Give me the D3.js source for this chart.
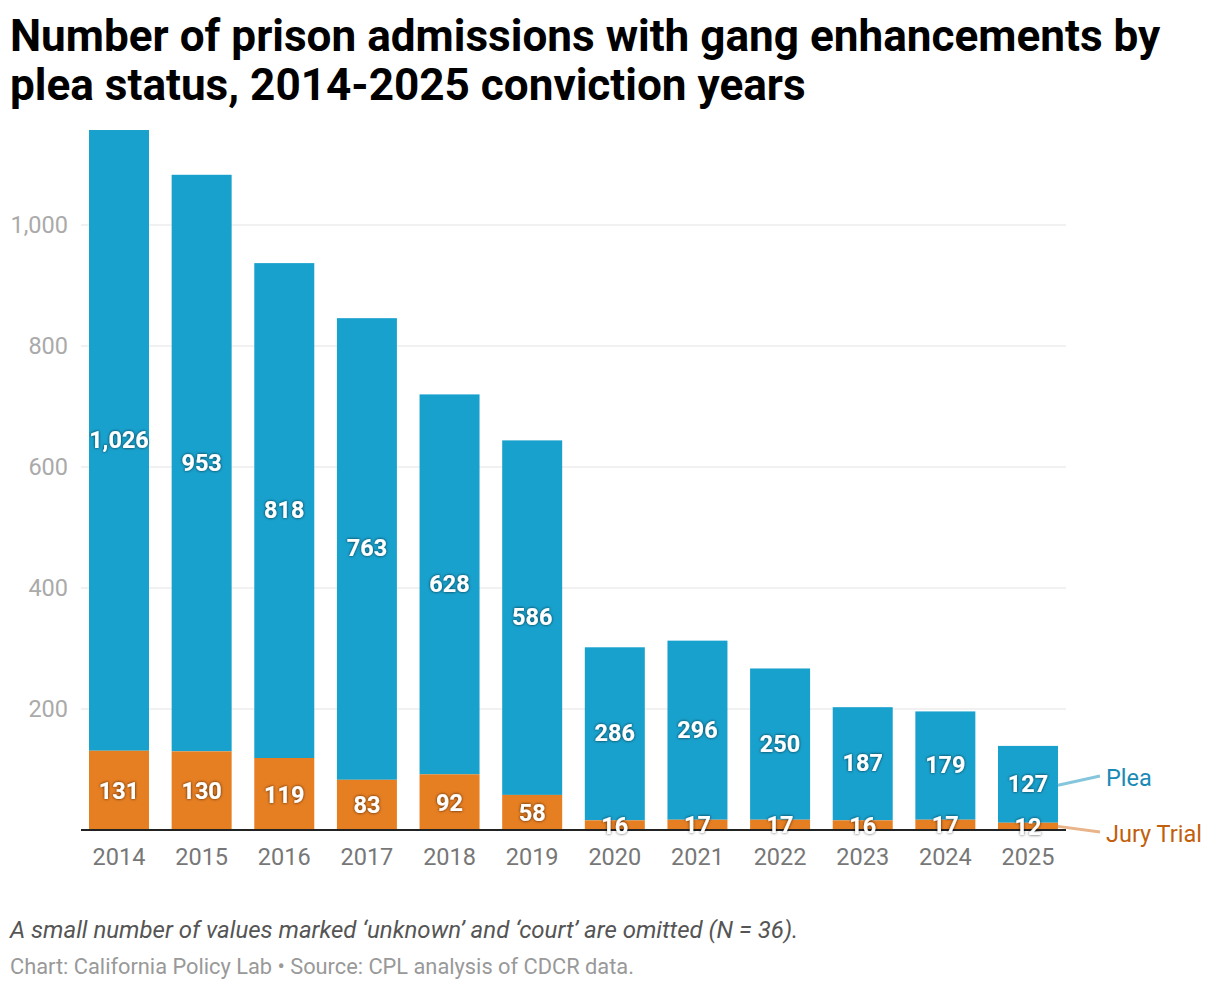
<!DOCTYPE html>
<html><head><meta charset="utf-8">
<script src="https://cdn.jsdelivr.net/npm/d3@7"></script>
<style>
body{margin:0;background:#fff;font-family:Roboto,"Noto Sans",sans-serif;}
</style></head><body>
<svg id="c" width="1220" height="990"></svg>
<script>
const years = ["2014","2015","2016","2017","2018","2019","2020","2021","2022","2023","2024","2025"];
const jury = [131,130,119,83,92,58,16,17,17,16,17,12];
const plea = [1026,953,818,763,628,586,286,296,250,187,179,127];
const yTicks = [200,400,600,800,1000];
const seriesNames = ["Plea","Jury Trial"];

const svg = d3.select("#c");
const x = d3.scaleBand().domain(years).range([81,1066]).paddingInner(0.274).paddingOuter(0.097);
const y = d3.scaleLinear().domain([0,1000]).range([830,225]);

const defs = svg.append("defs");
const f = defs.append("filter").attr("id","sh").attr("x","-20%").attr("y","-40%").attr("width","140%").attr("height","180%");
f.append("feDropShadow").attr("dx",0).attr("dy",0).attr("stdDeviation",1.6).attr("flood-color","#000").attr("flood-opacity",0.75);

// title
const title = svg.append("text").attr("x",10).attr("font-size",44.1).attr("font-weight",700).attr("fill","#000");
title.append("tspan").attr("x",10).attr("y",51).text("Number of prison admissions with gang enhancements by");
title.append("tspan").attr("x",10).attr("y",100).text("plea status, 2014-2025 conviction years");

// grid
svg.append("g").selectAll("line").data(yTicks).join("line")
  .attr("x1",81).attr("x2",1066).attr("y1",d=>y(d)).attr("y2",d=>y(d))
  .attr("stroke","#e3e3e3").attr("stroke-width",1.2);
svg.append("g").selectAll("text").data(yTicks).join("text")
  .attr("x",68).attr("y",d=>y(d)+8).attr("text-anchor","end")
  .attr("font-size",23.5).attr("fill","#aaaaaa").text(d=>d3.format(",")(d));

// bars
const data = years.map((yr,i)=>({yr,j:jury[i],p:plea[i]}));
const g = svg.append("g");
g.selectAll(".p").data(data).join("rect")
  .attr("x",d=>x(d.yr)).attr("width",x.bandwidth())
  .attr("y",d=>y(d.j+d.p)).attr("height",d=>y(d.j)-y(d.j+d.p)).attr("fill","#18a1cd");
g.selectAll(".j").data(data).join("rect")
  .attr("x",d=>x(d.yr)).attr("width",x.bandwidth())
  .attr("y",d=>y(d.j)).attr("height",d=>y(0)-y(d.j)).attr("fill","#e67e22");

// baseline
svg.append("line").attr("x1",81).attr("x2",1066).attr("y1",y(0)).attr("y2",y(0)).attr("stroke","#222").attr("stroke-width",2);

// value labels
const lab = svg.append("g").attr("font-size",23.5).attr("font-weight",700).attr("fill","#fff").attr("text-anchor","middle").attr("filter","url(#sh)");
lab.selectAll(".pl").data(data).join("text")
  .attr("x",d=>x(d.yr)+x.bandwidth()/2).attr("y",d=>(y(d.j)+y(d.j+d.p))/2+7.5)
  .text(d=>d3.format(",")(d.p));
lab.selectAll(".jl").data(data).join("text")
  .attr("x",d=>x(d.yr)+x.bandwidth()/2).attr("y",d=>(y(0)+y(d.j))/2+8.5)
  .text(d=>d3.format(",")(d.j));

// x axis labels
svg.append("g").selectAll("text").data(years).join("text")
  .attr("x",d=>x(d)+x.bandwidth()/2).attr("y",865).attr("text-anchor","middle")
  .attr("font-size",23.5).attr("fill","#777").text(d=>d);

// series labels
const last = data[data.length-1];
const bx = x(last.yr)+x.bandwidth();
const pMid = (y(last.j)+y(last.j+last.p))/2;
const jMid = (y(0)+y(last.j))/2;
svg.append("line").attr("x1",bx).attr("y1",pMid+1).attr("x2",1100).attr("y2",776).attr("stroke","#86c6dc").attr("stroke-width",3);
svg.append("line").attr("x1",bx).attr("y1",jMid).attr("x2",1100).attr("y2",832).attr("stroke","#e9b48a").attr("stroke-width",3);
svg.append("text").attr("x",1106).attr("y",786).attr("font-size",23.5).attr("fill","#1a8ab5").text(seriesNames[0]);
svg.append("text").attr("x",1106).attr("y",842).attr("font-size",23.5).attr("fill","#c25f0c").text(seriesNames[1]);

// notes
svg.append("text").attr("x",10).attr("y",938).attr("font-size",24).attr("font-style","italic").attr("fill","#555")
  .text("A small number of values marked \u2018unknown\u2019 and \u2018court\u2019 are omitted (N = 36).");
svg.append("text").attr("x",10).attr("y",974).attr("font-size",21.8).attr("fill","#999")
  .text("Chart: California Policy Lab \u2022 Source: CPL analysis of CDCR data.");
</script>
</body></html>
